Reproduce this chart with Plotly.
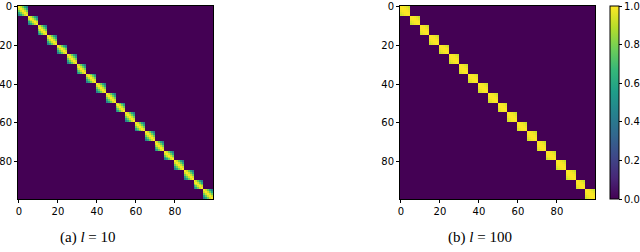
import numpy as np
import plotly.graph_objects as go

# Block size 5, 20 blocks along the diagonal of a 100x100 matrix
n_blocks = 20
# Within-block values (row = offset from diagonal)
block_l10 = [
    [1.00, 0.93, 0.78, 0.60, 0.42],
    [0.93, 1.00, 0.93, 0.78, 0.60],
    [0.78, 0.93, 1.00, 0.93, 0.78],
    [0.60, 0.78, 0.93, 1.00, 0.93],
    [0.42, 0.60, 0.78, 0.93, 1.00],
]
block_l100 = [
    [1.00, 0.995, 0.98, 0.955, 0.92],
    [0.995, 1.00, 0.995, 0.98, 0.955],
    [0.98, 0.995, 1.00, 0.995, 0.98],
    [0.955, 0.98, 0.995, 1.00, 0.995],
    [0.92, 0.955, 0.98, 0.995, 1.00],
]
tick_vals = [0, 20, 40, 60, 80]
cbar_ticks = [0.0, 0.2, 0.4, 0.6, 0.8, 1.0]
captions = ["(a) <i>l</i> = 10", "(b) <i>l</i> = 100"]

z1 = np.kron(np.eye(n_blocks), np.array(block_l10))
z2 = np.kron(np.eye(n_blocks), np.array(block_l100))
idx = list(range(z1.shape[0]))

W, H = 640, 252
TOP, BOT = 6, 199
fig = go.Figure()
fig.add_trace(go.Heatmap(z=z1, x=idx, y=idx, colorscale="Viridis", zmin=0, zmax=1,
                         showscale=False, xaxis="x", yaxis="y"))
fig.add_trace(go.Heatmap(z=z2, x=idx, y=idx, colorscale="Viridis", zmin=0, zmax=1,
                         xaxis="x2", yaxis="y2",
                         colorbar=dict(x=610 / W, xanchor="left", thickness=9,
                                       len=(BOT - TOP) / H, lenmode="fraction",
                                       y=1 - BOT / H, yanchor="bottom",
                                       tickvals=cbar_ticks, tickformat=".1f",
                                       ticks="outside", ticklen=3, tickcolor="black",
                                       outlinecolor="black", outlinewidth=1,
                                       xpad=0, ypad=0,
                                       tickfont=dict(family="DejaVu Sans", size=10, color="black"))))

ydom = [1 - BOT / H, 1 - TOP / H]
ax_common = dict(showline=True, mirror=True, linecolor="black", automargin=False,
                 linewidth=1, ticks="outside", ticklen=3, tickcolor="black",
                 tickvals=tick_vals, showgrid=False, zeroline=False,
                 tickfont=dict(family="DejaVu Sans", size=10, color="black"))
fig.update_layout(
    width=W, height=H, margin=dict(l=0, r=0, t=0, b=0, autoexpand=False),
    paper_bgcolor="white", plot_bgcolor="white",
    xaxis=dict(domain=[18 / W, 213 / W], anchor="y", range=[-0.5, 99.5], **ax_common),
    yaxis=dict(domain=ydom, anchor="x", range=[99.5, -0.5], **ax_common),
    xaxis2=dict(domain=[400 / W, 595 / W], anchor="y2", range=[-0.5, 99.5], **ax_common),
    yaxis2=dict(domain=ydom, anchor="x2", range=[99.5, -0.5], **ax_common),
)
for cx, txt in zip([88, 480], captions):
    fig.add_annotation(x=cx / W, y=1 - 237 / H, xref="paper", yref="paper",
                       text=txt, showarrow=False, xanchor="center", yanchor="middle",
                       font=dict(family="Liberation Serif", size=15, color="black"))

fig.write_html("out.html", config={"displayModeBar": False},
               post_script="document.body.style.margin='0';")
